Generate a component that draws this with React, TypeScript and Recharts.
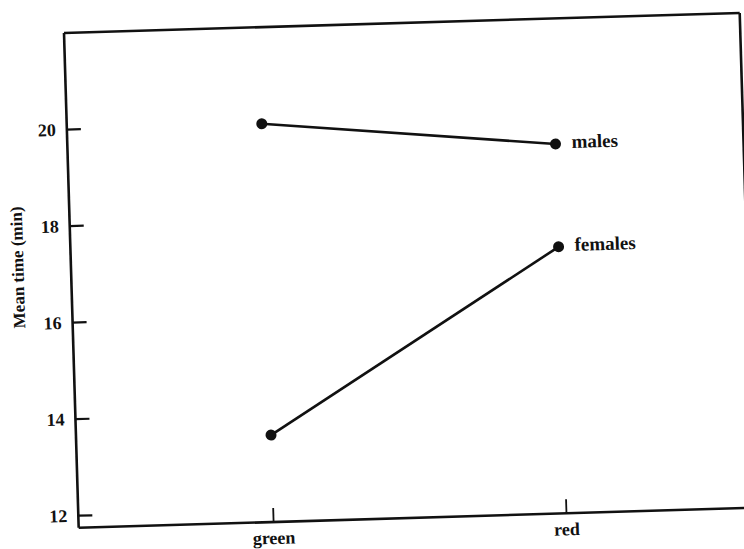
import { Line, LineChart, XAxis, YAxis } from "recharts";

const colours = ["green", "red"];
const males = [20.0, 19.4];
const females = [13.55, 17.27];
const yTicks = [12, 14, 16, 18, 20];
const seriesNames = ["males", "females"];

const data = colours.map((c, i) => ({ colour: c, males: males[i], females: females[i] }));

const INK = "#111";
const FONT = "'Liberation Serif', 'Times New Roman', serif";

function YTick({ x, y, payload }: any) {
  return (
    <g>
      <line x1={x} y1={y} x2={x + 14} y2={y} stroke={INK} strokeWidth={2.2} />
      <text x={x - 11} y={y} textAnchor="end" dominantBaseline="central" fontFamily={FONT} fontWeight="bold" fontSize={18} fill={INK}>
        {payload.value}
      </text>
    </g>
  );
}

function XTick({ x, y, payload }: any) {
  return (
    <g>
      <line x1={x} y1={y} x2={x} y2={y - 14} stroke={INK} strokeWidth={1.8} />
      <text x={x} y={y + 16} textAnchor="middle" dominantBaseline="central" fontFamily={FONT} fontWeight="bold" fontSize={18} fill={INK}>
        {payload.value}
      </text>
    </g>
  );
}

function seriesLabel(name: string) {
  return ({ x, y, index }: any) =>
    index === colours.length - 1 ? (
      <text x={x + 16} y={y - 2} dominantBaseline="central" fontFamily={FONT} fontWeight="bold" fontSize={19} fill={INK}>
        {name}
      </text>
    ) : null;
}

export default function App() {
  return (
    <div style={{ position: "fixed", left: 0, top: 0, width: 744, height: 549, background: "#fff", overflow: "hidden" }}>
      <div style={{ transform: "rotate(-1.7deg)", transformOrigin: "64px 33px" }}>
        <LineChart
          width={744}
          height={580}
          data={data}
          margin={{ top: 32, right: 3, bottom: 51, left: 63 }}
          style={{ overflow: "visible" }}
        >
          <XAxis
            dataKey="colour"
            height={1}
            padding={{ left: 195, right: 188 }}
            axisLine={{ stroke: INK, strokeWidth: 2.6 }}
            tickLine={false}
            tickSize={0}
            tickMargin={0}
            tick={<XTick />}
          />
          <XAxis
            xAxisId="top"
            dataKey="colour"
            orientation="top"
            height={1}
            axisLine={{ stroke: INK, strokeWidth: 2.6 }}
            tick={false}
            tickLine={false}
          />
          <YAxis
            type="number"
            domain={[11.75, 22]}
            ticks={yTicks}
            width={1}
            axisLine={{ stroke: INK, strokeWidth: 2.6 }}
            tickLine={false}
            tickSize={0}
            tickMargin={0}
            tick={<YTick />}
            label={{
              content: ({ viewBox }: any) => (
                <text
                  x={viewBox.x - 52}
                  y={viewBox.y + 233}
                  transform={`rotate(-90, ${viewBox.x - 52}, ${viewBox.y + 233})`}
                  textAnchor="middle"
                  dominantBaseline="central"
                  fontFamily={FONT}
                  fontWeight="bold"
                  fontSize={17}
                  fill={INK}
                >
                  Mean time (min)
                </text>
              ),
            }}
          />
          <YAxis
            yAxisId="right"
            orientation="right"
            domain={[11.75, 22]}
            width={1}
            axisLine={{ stroke: INK, strokeWidth: 2.6 }}
            tick={false}
            tickLine={false}
          />
          {seriesNames.map((name) => (
            <Line
              key={name}
              dataKey={name}
              stroke={INK}
              strokeWidth={2.6}
              dot={{ r: 5.5, fill: INK, stroke: INK, strokeWidth: 0 }}
              activeDot={false}
              label={seriesLabel(name)}
              isAnimationActive={false}
            />
          ))}
        </LineChart>
      </div>
    </div>
  );
}
